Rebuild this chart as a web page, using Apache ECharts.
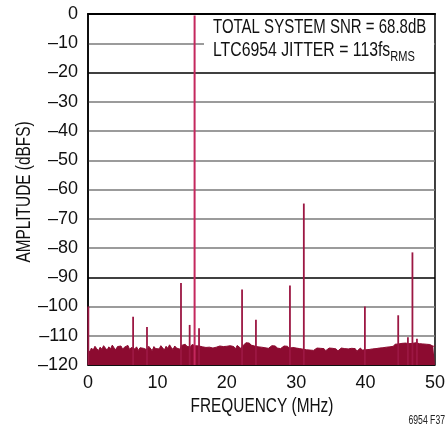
<!DOCTYPE html>
<html>
<head>
<meta charset="utf-8">
<script src="https://cdn.jsdelivr.net/npm/echarts@6/dist/echarts.min.js"></script>
<style>
html,body{margin:0;padding:0;background:#fff;}
#chart{width:448px;height:432px;}
</style>
</head>
<body>
<div id="chart"></div>
<script>
// ---- data ----
var yTicks = [0, -10, -20, -30, -40, -50, -60, -70, -80, -90, -100, -110, -120];
var xTicks = [0, 10, 20, 30, 40, 50];
var noiseStep = 0.25; // MHz between noise-floor samples
var noiseFloor = [
  -114.8,-115.5,-114.2,-114.9,-113.6,-114.4,-115.1,-113.9,-114.6,-113.4,-114.2,-114.9,-113.8,-114.5,-113.2,-114.1,-114.8,-113.7,-114.3,-113.5,
  -114.6,-113.9,-114.4,-113.3,-114.7,-114.0,-113.6,-114.5,-113.8,-115.0,-114.1,-113.5,-114.3,-113.9,-114.8,-113.6,-114.2,-115.1,-113.7,-114.4,
  -113.8,-114.5,-113.4,-114.1,-114.9,-113.6,-114.3,-113.1,-114.0,-114.7,-113.5,-114.2,-113.9,-114.6,-113.3,-113.8,-112.9,-113.6,-113.2,-113.9,
  -113.0,-112.6,-113.4,-112.8,-113.5,-113.1,-113.8,-113.2,-114.0,-113.4,-113.9,-113.3,-114.2,-113.6,-113.9,-114.4,-113.5,-114.1,-113.7,-114.3,
  -113.6,-114.2,-113.4,-114.0,-113.7,-114.5,-113.3,-113.9,-114.3,-113.6,-113.1,-112.4,-113.0,-112.5,-113.2,-112.8,-113.5,-113.1,-113.8,-113.3,
  -113.9,-113.4,-114.1,-113.6,-114.3,-113.8,-113.4,-114.0,-113.5,-114.2,-113.7,-114.4,-113.9,-113.5,-114.1,-113.6,-114.3,-113.8,-114.0,-113.5,
  -114.2,-113.7,-114.4,-113.9,-114.6,-114.1,-114.8,-114.3,-114.9,-114.4,-115.0,-114.5,-114.2,-114.8,-114.3,-114.9,-114.4,-115.1,-114.6,-114.2,
  -114.7,-114.3,-114.9,-114.5,-115.2,-114.6,-114.2,-114.8,-114.4,-115.0,-114.5,-114.9,-114.3,-114.8,-114.4,-115.3,-114.7,-114.2,-114.9,-114.5,
  -114.8,-114.3,-114.7,-114.1,-114.5,-113.9,-114.4,-113.8,-114.2,-113.6,-114.1,-113.5,-113.9,-113.3,-113.8,-113.2,-113.6,-112.9,-113.4,-112.8,
  -113.3,-112.6,-113.1,-112.5,-113.0,-112.7,-113.2,-112.6,-113.1,-112.4,-113.0,-112.7,-113.3,-112.8,-113.4,-112.9,-113.5,-113.0,-113.2,-113.6,
  -113.4
];
var spikeFreq = [0.05, 6.5, 8.5, 13.4, 14.65, 15.36, 16.0, 22.2, 24.2, 29.1, 31.1, 39.9, 44.7, 46.1, 46.75, 47.4];
var spikeAmp  = [-100, -103.5, -107, -92, -106.3, -0.5, -107.4, -94.2, -104.5, -92.8, -64.8, -100, -103, -110.5, -81.5, -111];
var fundamentalFreq = 15.36;
var annotation1 = 'TOTAL SYSTEM SNR = 68.8dB';
var annotation2 = 'LTC6954 JITTER = 113fs';
var annotation2Sub = 'RMS';
var xName = 'FREQUENCY (MHz)';
var yName = 'AMPLITUDE (dBFS)';
var figId = '6954 F37';

// ---- build ----
var FONT = "'Liberation Sans',Arial,sans-serif";
var noiseData = noiseFloor.map(function (v, i) { return [i * noiseStep, v]; });
var spikeData = spikeFreq.map(function (f, i) { return [f, spikeAmp[i]]; });

function fmtY(v) { return v < 0 ? '\u2013' + Math.abs(v) : String(v); }

// split line colors from -120 upward: black at -120, -90, -20, 0
var splitColors = yTicks.slice().reverse().map(function (v) {
  return (v === -120 || v === -90 || v === -20 || v === 0) ? '#000' : '#7a7a7a';
});

var chart = echarts.init(document.getElementById('chart'), null, {renderer: 'canvas'});
chart.setOption({
  backgroundColor: '#fff',
  animation: false,
  grid: {left: 88, right: 11, top: 14, bottom: 67, show: true, borderColor: '#000', borderWidth: 1.5},
  xAxis: {
    type: 'value', min: 0, max: 50, interval: 10,
    axisLine: {show: true, lineStyle: {color: '#000', width: 2}},
    axisTick: {show: false},
    splitLine: {show: false},
    axisLabel: {fontFamily: FONT, fontSize: 18, color: '#111', margin: 9}
  },
  yAxis: {
    type: 'value', min: -120, max: 0, interval: 10,
    axisLine: {show: true, lineStyle: {color: '#000', width: 1.5}},
    axisTick: {show: false},
    splitLine: {show: true, lineStyle: {color: splitColors, width: 1.5}},
    axisLabel: {fontFamily: FONT, fontSize: 18, color: '#111', margin: 10, formatter: fmtY}
  },
  graphic: [
    {type: 'rect', z: 10, shape: {x: 204, y: 15, width: 230, height: 55}, style: {fill: '#fff'}},
    {type: 'text', z: 11, x: 213, y: 27, scaleX: 0.75,
      style: {text: annotation1, font: '20px ' + FONT, fill: '#111', textAlign: 'left', textVerticalAlign: 'middle'}},
    {type: 'text', z: 11, x: 213, y: 52, scaleX: 0.79,
      style: {text: '{a|' + annotation2 + '}{s|' + annotation2Sub + '}', fill: '#111',
        textAlign: 'left', textVerticalAlign: 'middle',
        rich: {a: {fontFamily: FONT, fontSize: 20, lineHeight: 24, verticalAlign: 'top', fill: '#111'},
               s: {fontFamily: FONT, fontSize: 14, lineHeight: 13, verticalAlign: 'bottom', fill: '#111'}}}},
    {type: 'text', z: 11, x: 262, y: 406, scaleX: 0.77,
      style: {text: xName, font: '20px ' + FONT, fill: '#111', textAlign: 'center', textVerticalAlign: 'middle'}},
    {type: 'text', z: 11, x: 24, y: 192, rotation: Math.PI / 2, scaleX: 0.77,
      style: {text: yName, font: '20px ' + FONT, fill: '#111', textAlign: 'center', textVerticalAlign: 'middle'}},
    {type: 'text', z: 11, x: 445, y: 421, scaleX: 0.72,
      style: {text: figId, font: '12px ' + FONT, fill: '#222', textAlign: 'right', textVerticalAlign: 'middle'}}
  ],
  series: [
    {
      type: 'line', data: noiseData, symbol: 'none', z: 3,
      lineStyle: {color: '#8c0b30', width: 1},
      areaStyle: {color: '#8c0b30', origin: 'start', opacity: 1}
    },
    {
      type: 'custom', data: spikeData, z: 4,
      renderItem: function (params, api) {
        var f = api.value(0), a = api.value(1);
        var p0 = api.coord([f, -120]);
        var p1 = api.coord([f, a]);
        var main = Math.abs(f - fundamentalFreq) < 1e-6;
        return {type: 'line', shape: {x1: p0[0], y1: p0[1], x2: p1[0], y2: p1[1]},
          style: {stroke: main ? '#c4285e' : '#9c1743', lineWidth: main ? 2 : 1.8}};
      }
    }
  ]
});
</script>
</body>
</html>
